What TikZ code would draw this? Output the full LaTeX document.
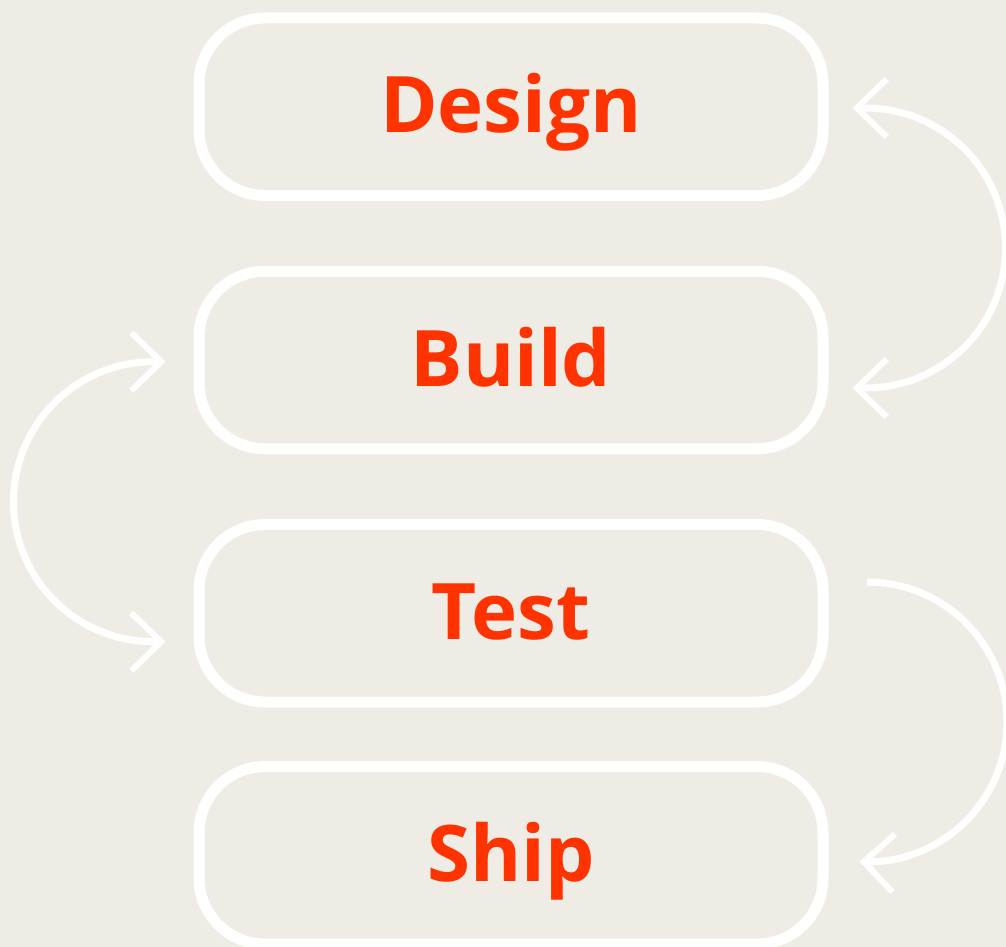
\documentclass[tikz,border=0pt]{standalone}
\usepackage{fontspec}
\newfontfamily\labfont{Open Sans}
\usetikzlibrary{arrows.meta}
\definecolor{bgc}{RGB}{239,236,229}
\definecolor{txtc}{RGB}{255,51,0}
\tikzset{
  stage/.style={draw=white, line width=11pt, rounded corners=66pt,
    minimum width=624pt, minimum height=177.5pt, inner sep=0pt,
    text=txtc, font=\labfont\bfseries\fontsize{78}{94}\selectfont,
    text height=56pt, text depth=4pt},
  loop/.style={draw=white, line width=7pt,
    arrows={-Straight Barb[length=30pt,width=58pt,line width=6pt]}},
  bothloop/.style={draw=white, line width=7pt,
    arrows={Straight Barb[length=30pt,width=58pt,line width=6pt]-Straight Barb[length=30pt,width=58pt,line width=6pt]}}
}
\begin{document}
\begin{tikzpicture}[x=1pt,y=-1pt]
\fill[bgc] (0,0) rectangle (1006,947);
\useasboundingbox (0,0) rectangle (1006,947);
\node[stage] (design) at (511,106.75) {Design};
\node[stage] (build) at (511,360) {Build};
\node[stage] (test) at (511,613.25) {Test};
\node[stage] (ship) at (511,855.3) {Ship};
% right loop between Design and Build
\draw[bothloop] ([xshift=24pt,yshift=-28pt]build.east) -- ++(13pt,0)
  arc[start angle=-90,end angle=90,radius=140pt] -- ([xshift=24pt,yshift=-1.25pt]design.east);
% left loop between Build and Test
\draw[bothloop] ([xshift=-28pt,yshift=-1.7pt]build.west) -- ++(-12pt,0)
  arc[start angle=90,end angle=270,radius=140pt] -- ([xshift=-28pt,yshift=-28.4pt]test.west);
% right loop from Test to Ship
\draw[loop] ([xshift=38.5pt,yshift=31.25pt]test.east)
  arc[start angle=90,end angle=-90,radius=140pt] -- ([xshift=31pt,yshift=-6.4pt]ship.east);
\end{tikzpicture}
\end{document}
